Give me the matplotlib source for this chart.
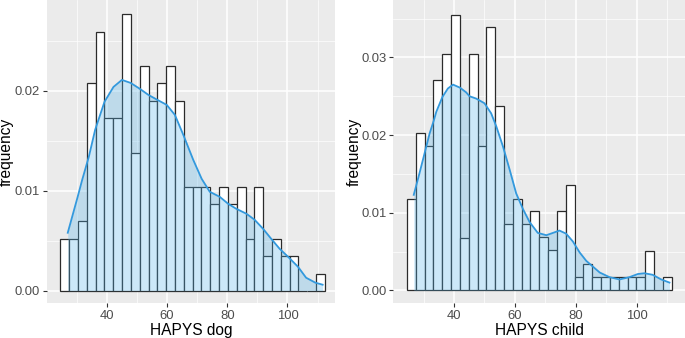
import numpy as np
import matplotlib.pyplot as plt

plt.rcParams['font.family'] = ['Liberation Sans', 'DejaVu Sans']

# histogram bar heights (density), 30 bins each
dog_lo, dog_hi = 26, 111
dog_dens = [0.0052, 0.0052, 0.0070, 0.0208, 0.0259, 0.0173, 0.0173, 0.0277, 0.0138, 0.0225,
            0.0190, 0.0208, 0.0225, 0.0190, 0.0104, 0.0104, 0.0104, 0.0087, 0.0104, 0.0087,
            0.0104, 0.0052, 0.0104, 0.0035, 0.0052, 0.0035, 0.0035, 0.0, 0.0, 0.0017]

child_lo, child_hi = 26, 110
child_dens = [0.0118, 0.0203, 0.0186, 0.0271, 0.0305, 0.0355, 0.0068, 0.0305, 0.0186, 0.0339,
              0.0237, 0.0085, 0.0118, 0.0085, 0.0102, 0.0069, 0.0052, 0.0102, 0.0136, 0.0017,
              0.0034, 0.0017, 0.0017, 0.0017, 0.0017, 0.0017, 0.0017, 0.0051, 0.0, 0.0017]

# density curves
dog_kx = [27.0, 30.3, 31.8, 34.0, 36.1, 39.2, 42.2, 45.0, 47.9, 51.0, 53.8, 56.8, 59.9,
          62.6, 65.4, 68.7, 71.5, 74.2, 77.5, 80.3, 83.0, 86.4, 89.1, 91.9, 94.6, 97.4,
          100.2, 103.5, 106.2, 109.3, 111.7]
dog_ky = [0.0058, 0.0094, 0.0111, 0.0134, 0.0161, 0.0189, 0.0204, 0.0211, 0.0208, 0.0202,
          0.0196, 0.0191, 0.0186, 0.0176, 0.0156, 0.0131, 0.0112, 0.0099, 0.0094, 0.0087,
          0.0082, 0.0077, 0.0071, 0.0062, 0.0052, 0.0042, 0.0034, 0.0024, 0.0013, 0.0008,
          0.0006]

child_kx = [26.8, 28.3, 29.8, 32.0, 33.4, 34.2, 36.2, 38.0, 39.7, 42.0, 44.0, 45.1, 47.3,
            50.0, 52.2, 53.9, 56.1, 58.3, 60.4, 62.6, 64.8, 67.5, 70.3, 72.5, 74.6, 76.8,
            79.0, 81.2, 83.4, 87.8, 91.0, 94.3, 97.6, 100.3, 102.5, 105.2, 108.0, 110.7]
child_ky = [0.0123, 0.0145, 0.0168, 0.0202, 0.0219, 0.0230, 0.0249, 0.0260, 0.0265, 0.0261,
            0.0255, 0.0250, 0.0247, 0.0241, 0.0228, 0.0211, 0.0185, 0.0155, 0.0125, 0.0105,
            0.0088, 0.0074, 0.0071, 0.0074, 0.0077, 0.0073, 0.0063, 0.0049, 0.0038, 0.0023,
            0.0017, 0.0014, 0.0017, 0.0021, 0.0022, 0.0020, 0.0014, 0.0010]

panels = [
    (dog_lo, dog_hi, dog_dens, dog_kx, dog_ky, 'HAPYS dog', [0, 0.01, 0.02], (-0.00123, 0.0291)),
    (child_lo, child_hi, child_dens, child_kx, child_ky, 'HAPYS child', [0, 0.01, 0.02, 0.03], (-0.00163, 0.0374)),
]
rects = [[0.0686, 0.1036, 0.4204, 0.8964], [0.5742, 0.1036, 0.4258, 0.8964]]
ylab_x = [-0.116, -0.108]

fig = plt.figure(figsize=(6.85, 3.38), dpi=100)

for (lo, hi, dens, kx, ky, xlab, yt, ylim), r, lx in zip(panels, rects, ylab_x):
    ax = fig.add_axes(r)
    ax.set_facecolor('#EBEBEB')
    w = (hi - lo) / 29
    centers = np.linspace(lo, hi, 30)
    ax.bar(centers, dens, width=w, color='white', edgecolor='#2B2B2B', linewidth=0.9, zorder=2)
    ax.fill_between(kx, ky, color='#56B4E9', alpha=0.3, linewidth=0, zorder=3)
    ax.plot(kx, ky, color='#3399DD', linewidth=1.3, zorder=4)

    ax.set_xlim(20.1, 115.8)
    ax.set_ylim(*ylim)
    ax.set_xticks([40, 60, 80, 100])
    ax.set_xticks([30, 50, 70, 90, 110], minor=True)
    ax.set_yticks(yt)
    ax.set_yticklabels(['%.2f' % v for v in yt])
    ax.set_yticks([v + 0.005 for v in yt], minor=True)
    ax.grid(True, which='major', color='white', linewidth=1.1, zorder=0)
    ax.grid(True, which='minor', color='white', linewidth=0.5, zorder=0)
    ax.set_axisbelow(True)
    for s in ax.spines.values():
        s.set_visible(False)
    ax.tick_params(which='major', length=3, width=0.8, color='#333333',
                   labelcolor='#4D4D4D', labelsize=9.4, pad=2)
    ax.tick_params(which='minor', length=0)
    ax.set_xlabel(xlab, fontsize=11.2, labelpad=1)
    ax.set_ylabel('frequency', fontsize=11.2)
    ax.yaxis.set_label_coords(lx, 0.5)

plt.savefig('out.png', dpi=100)
